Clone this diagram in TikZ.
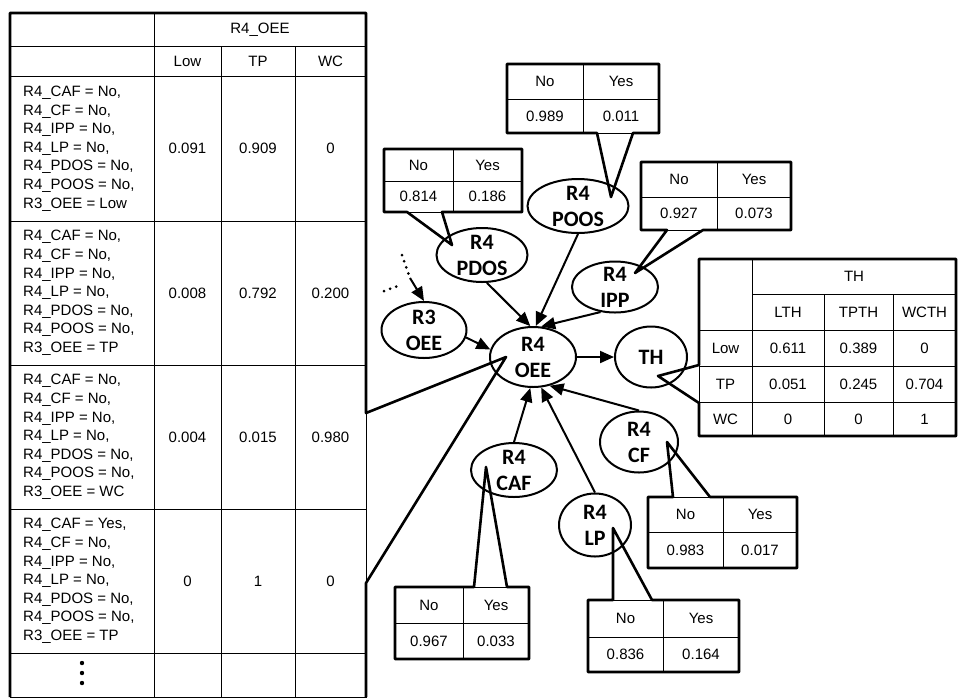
\documentclass[tikz,border=0pt]{standalone}
\usepackage{fontspec}
\setmainfont{Liberation Sans}
\newfontfamily\nodefont{Carlito}
\usetikzlibrary{arrows.meta}
\usetikzlibrary{shapes.geometric}

\newcommand{\tabfont}{\fontsize{15}{18.6}\selectfont}
% #1 name, #2 x0, #3 y0, #4 xmid, #5 ymid, #6 x1, #7 y1, #8 p(No), #9 p(Yes)
\newcommand{\noyestab}[9]{%
  \draw[tabline] (#2,#3) rectangle (#6,#7) (#4,#3) -- (#4,#7) (#2,#5) -- (#6,#5);
  \node[cell] (#1no) at ({(#2+#4)/2},{(#3+#5)/2}) {No};
  \node[cell] (#1yes) at ({(#4+#6)/2},{(#3+#5)/2}) {Yes};
  \node[cell] (#1pno) at ({(#2+#4)/2},{(#5+#7)/2}) {#8};
  \node[cell] (#1pyes) at ({(#4+#6)/2},{(#5+#7)/2}) {#9};
}

\begin{document}
\begin{tikzpicture}[x=1pt, y=-1pt,
    bnode/.style={ellipse, draw, line width=2pt, inner xsep=0pt, inner ysep=-6pt,
      align=center, font=\nodefont\bfseries\fontsize{22}{26}\selectfont},
    link/.style={-{Triangle[length=14pt,width=12pt]}, line width=2pt},
    dots/.style={line width=3pt, line cap=round, dash pattern=on 0pt off 6.5pt},
    tabline/.style={line width=0.8pt},
    callout/.style={line width=2.6pt, line join=round},
    cell/.style={inner sep=0pt, font=\tabfont}]
  \fill[white] (0,0) rectangle (958,697);
  \useasboundingbox (0,0) rectangle (958,697);

  % network
  \node[bnode, minimum width=101pt, minimum height=54pt] (poos) at (578,206) {R4\\POOS};
  \node[bnode, minimum width=91pt, minimum height=54pt] (pdos) at (482,255) {R4\\PDOS};
  \node[bnode, minimum width=86pt, minimum height=51pt] (ipp) at (615,287) {R4\\IPP};
  \node[bnode, minimum width=85pt, minimum height=56pt] (r3oee) at (424,330) {R3\\OEE};
  \node[bnode, minimum width=86pt, minimum height=60pt] (oee) at (533,357) {R4\\OEE};
  \node[bnode, minimum width=72pt, minimum height=61pt] (th) at (651,357) {TH};
  \node[bnode, minimum width=78pt, minimum height=61pt] (cf) at (639,442) {R4\\CF};
  \node[bnode, minimum width=86pt, minimum height=54pt] (caf) at (514,470) {R4\\CAF};
  \node[bnode, minimum width=72pt, minimum height=63pt] (lp) at (595,525) {R4\\LP};

  \draw[link] (r3oee.-10) -- (oee.170);
  \draw[link] (pdos.-80) -- (oee.95);
  \draw[link] (poos.south) -- (oee.85);
  \draw[link] (ipp.-120) -- (oee.75);
  \draw[link] (oee) -- (th);
  \draw[link] (caf.north) -- (oee.-95);
  \draw[link] (lp.north) -- (oee.-75);
  \draw[link] (cf.north) -- (oee.-60);

  % earlier slices
  \coordinate (prevA) at (402,255);
  \coordinate (prevB) at (410,278);
  \coordinate (prevC) at (384,291);
  \coordinate (prevD) at (398,286);
  \draw[dots] (prevA) -- (prevB);
  \draw[dots] (prevC) -- (prevD);
  \draw[link] (prevB) -- (r3oee.north);

  % CPT of R4_OEE
  \draw[tabline] (10,13) rectangle (366,697);
  \draw[tabline] (154,13) -- (154,697) (221,46) -- (221,697) (295,46) -- (295,697);
  \foreach \yy in {46,76,221,365,509,653}
    \draw[tabline] (10,\yy) -- (366,\yy);
  \node[cell] (oeehead) at (260,29.5) {R4\_OEE};
  \node[cell] (oeelow) at (187.5,61) {Low};
  \node[cell] (oeetp) at (258,61) {TP};
  \node[cell] (oeewc) at (330.5,61) {WC};
  \foreach \yy/\caf/\rthree/\vlow/\vtp/\vwc [count=\row] in
      {148.5/No/Low/0.091/0.909/0, 293/No/TP/0.008/0.792/0.200,
       437/No/WC/0.004/0.015/0.980, 581/Yes/TP/0/1/0} {
    \node[cell, anchor=west, align=left] (cond\row) at (23,\yy)
      {R4\_CAF = \caf,\\R4\_CF = No,\\R4\_IPP = No,\\R4\_LP = No,\\R4\_PDOS = No,\\R4\_POOS = No,\\R3\_OEE = \rthree};
    \node[cell] (low\row) at (187.5,\yy) {\vlow};
    \node[cell] (tp\row) at (258,\yy) {\vtp};
    \node[cell] (wc\row) at (330.5,\yy) {\vwc};
  }
  \foreach \yy in {663,673,683}
    \fill (82,\yy) circle (2.2pt);
  \draw[callout] (10,697) -- (10,13) -- (366,13) -- (366,413) -- (506,357) -- (366,583) -- (366,697);

  % CPT of TH
  \draw[tabline] (699,259) rectangle (956,436);
  \draw[tabline] (752,259) -- (752,436) (824,294) -- (824,436) (893,294) -- (893,436);
  \draw[tabline] (752,294) -- (956,294);
  \foreach \yy in {330,366,402}
    \draw[tabline] (699,\yy) -- (956,\yy);
  \node[cell] (thhead) at (854,276.5) {TH};
  \node[cell] (thl) at (788,312) {LTH};
  \node[cell] (tht) at (858.5,312) {TPTH};
  \node[cell] (thw) at (924.5,312) {WCTH};
  \foreach \yy/\st/\va/\vb/\vc [count=\row] in
      {348/Low/0.611/0.389/0, 384/TP/0.051/0.245/0.704, 419/WC/0/0/1} {
    \node[cell] (thst\row) at (725.5,\yy) {\st};
    \node[cell] (thl\row) at (788,\yy) {\va};
    \node[cell] (tht\row) at (858.5,\yy) {\vb};
    \node[cell] (thw\row) at (924.5,\yy) {\vc};
  }
  \draw[callout] (699,259) -- (956,259) -- (956,436) -- (699,436) -- (699,403) -- (658,376) -- (699,365) -- cycle;

  % marginals
  \noyestab{poos}{507}{64}{583}{99}{659}{133}{0.989}{0.011}
  \draw[callout] (507,64) -- (659,64) -- (659,133) -- (633,133) -- (611,197) -- (597,133) -- (507,133) -- cycle;

  \noyestab{pdos}{384}{149}{453}{181}{522}{212}{0.814}{0.186}
  \draw[callout] (384,149) -- (522,149) -- (522,212) -- (442,212) -- (452,245) -- (407,212) -- (384,212) -- cycle;

  \noyestab{ipp}{641}{162}{717}{197}{791}{230}{0.927}{0.073}
  \draw[callout] (641,162) -- (791,162) -- (791,230) -- (703,230) -- (635,273) -- (667,230) -- (641,230) -- cycle;

  \noyestab{cf}{648}{497}{723}{532}{797}{568}{0.983}{0.017}
  \draw[callout] (648,497) -- (673,497) -- (667,442) -- (710,497) -- (797,497) -- (797,568) -- (648,568) -- cycle;

  \noyestab{lp}{588}{600}{663}{637}{739}{672}{0.836}{0.164}
  \draw[callout] (588,600) -- (613,600) -- (613,528) -- (652,600) -- (739,600) -- (739,672) -- (588,672) -- cycle;

  \noyestab{caf}{395}{587}{463}{623}{529}{659}{0.967}{0.033}
  \draw[callout] (395,587) -- (474,587) -- (486,467) -- (507,587) -- (529,587) -- (529,659) -- (395,659) -- cycle;
\end{tikzpicture}
\end{document}
